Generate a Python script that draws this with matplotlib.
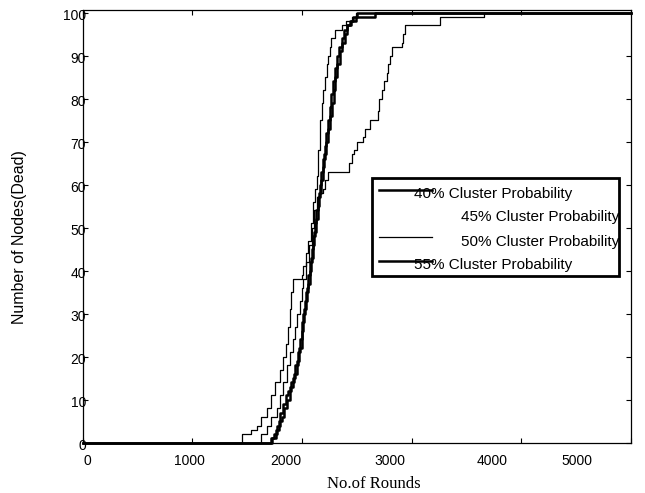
import matplotlib
matplotlib.use("Agg")
import matplotlib.pyplot as plt
import matplotlib.transforms as mtransforms

# Datos: rondas en que cambia la cantidad de nodos muertos
rondas_40 = [0, 1720, 1750, 1775, 1800, 1830, 1855, 1875, 1900, 1925, 1952, 1975, 1997, 2012,
             2027, 2043, 2058, 2073, 2088, 2103, 2118, 2133, 2148, 2163, 2178, 2193, 2208, 2223,
             2238, 2255, 2270, 2285, 2300, 2320, 2340, 2362, 2385, 2410, 2440, 2470, 2500, 5000]
muertos_40 = [0, 1, 2, 4, 7, 9, 11, 12, 14, 16, 19, 22, 26, 30,
              33, 36, 39, 42, 45, 48, 51, 54, 57, 60, 63, 66, 69, 72,
              75, 78, 81, 84, 87, 90, 92, 94, 96, 97, 98, 99, 100, 100]

rondas_45 = [0, 1630, 1678, 1720, 1770, 1800, 1830, 1860, 1890, 1915, 1936, 1960, 1982, 2000,
             2012, 2040, 2065, 2090, 2115, 2140, 2164, 2190, 2210, 2240, 2430, 2455, 2480, 2505,
             2555, 2575, 2620, 2690, 2700, 2727, 2750, 2772, 2785, 2800, 2818, 2910, 2925, 2940,
             3258, 3660, 5000]
muertos_45 = [0, 2, 4, 6, 8, 11, 14, 18, 21, 24, 27, 30, 33, 36,
              38, 42, 46, 50, 54, 57, 58, 59, 61, 63, 65, 67, 68, 70,
              71, 73, 75, 77, 80, 82, 84, 86, 88, 90, 92, 93, 95, 97,
              99, 100, 100]

rondas_50 = [0, 1450, 1540, 1590, 1630, 1680, 1720, 1755, 1800, 1830, 1855, 1875, 1890, 1905,
             1920, 1997, 2012, 2035, 2058, 2080, 2103, 2120, 2134, 2149, 2164, 2180, 2195, 2210,
             2225, 2240, 2255, 2270, 2300, 2362, 2407, 2453, 2492, 5000]
muertos_50 = [0, 2, 3, 4, 6, 8, 11, 14, 17, 20, 23, 27, 31, 35,
              38, 39, 41, 44, 47, 51, 56, 59, 62, 68, 75, 79, 82, 85,
              88, 90, 92, 94, 96, 97, 98, 99, 100, 100]

rondas_55 = [0, 1730, 1760, 1790, 1815, 1840, 1865, 1890, 1915, 1940, 1962, 1985, 2005, 2022,
             2040, 2055, 2070, 2085, 2100, 2115, 2130, 2145, 2160, 2175, 2190, 2205, 2220, 2240,
             2255, 2272, 2290, 2305, 2322, 2345, 2365, 2390, 2415, 2450, 2490, 2665, 5000]
muertos_55 = [0, 1, 3, 5, 6, 8, 10, 13, 15, 18, 21, 24, 28, 31,
              35, 37, 40, 43, 46, 49, 52, 55, 58, 61, 64, 67, 70, 73,
              76, 79, 82, 85, 88, 91, 93, 95, 97, 98, 99, 100, 100]

etiquetas = ["40% Cluster Probability", "45% Cluster Probability",
             "50% Cluster Probability", "55% Cluster Probability"]
xticks = [0, 1000, 2000, 3000, 4000, 5000]
yticks = list(range(0, 101, 10))

fig = plt.figure(figsize=(6.45, 4.93), dpi=100)
ax = fig.add_axes([0.128, 0.102, 0.850, 0.877])

l40, = ax.step(rondas_40, muertos_40, where="post", color="black", lw=1.8, clip_on=False)
l45, = ax.step(rondas_45, muertos_45, where="post", color="black", lw=0.9, clip_on=False)
l50, = ax.step(rondas_50, muertos_50, where="post", color="black", lw=0.9, clip_on=False)
l55, = ax.step(rondas_55, muertos_55, where="post", color="black", lw=1.8, clip_on=False)

ax.set_xlim(0, 5000)
ax.set_ylim(0, 100.5)
ax.set_xticks(xticks)
ax.set_yticks(yticks)
ax.tick_params(direction="in", length=3.5, width=0.8, top=True, right=True,
               labelsize=10, labelfontfamily="Liberation Sans")
ax.tick_params(axis="x", pad=8)
ax.tick_params(axis="y", pad=-2.5)
for s in ax.spines.values():
    s.set_linewidth(0.9)

ax.set_xlabel("No.of Rounds", fontsize=12, family="Liberation Serif")
ax.xaxis.set_label_coords(0.531, -0.077)
ax.set_ylabel("Number of Nodes(Dead)", fontsize=11.5, family="Liberation Sans")
ax.yaxis.set_label_coords(-0.1016, 0.475)

# Leyenda
leg = ax.legend([l40, l45, l50, l55], etiquetas, loc="upper left",
                bbox_to_anchor=(0.5276, 0.3857, 0.4505, 0.2267), mode="expand",
                borderaxespad=0, fancybox=False, edgecolor="black", framealpha=1,
                handlelength=3.5, handletextpad=-1.2, borderpad=0.45, labelspacing=0.62,
                prop={"family": "Liberation Sans", "size": 11})
leg.get_frame().set_linewidth(2)
leg.get_lines()[1].set_visible(False)
desplaz_leg = [(0, -2), (47, -2), (47, -3), (0, -3)]
for t, (dx, dy) in zip(leg.get_texts(), desplaz_leg):
    t.set_transform(t.get_transform() + mtransforms.ScaledTranslation(dx / 100, dy / 100, fig.dpi_scale_trans))

# Desplazamiento de las etiquetas de los ejes (como en la figura original)
desplaz_x = [5, -3, -16, -22, -29, -54]
for t, dx in zip(ax.get_xticklabels(), desplaz_x):
    t.set_transform(t.get_transform() + mtransforms.ScaledTranslation(dx / 100, 0, fig.dpi_scale_trans))
for t in ax.get_yticklabels():
    t.set_transform(t.get_transform() + mtransforms.ScaledTranslation(0, -1.5 / 100, fig.dpi_scale_trans))

fig.savefig("out.png", dpi=100)
